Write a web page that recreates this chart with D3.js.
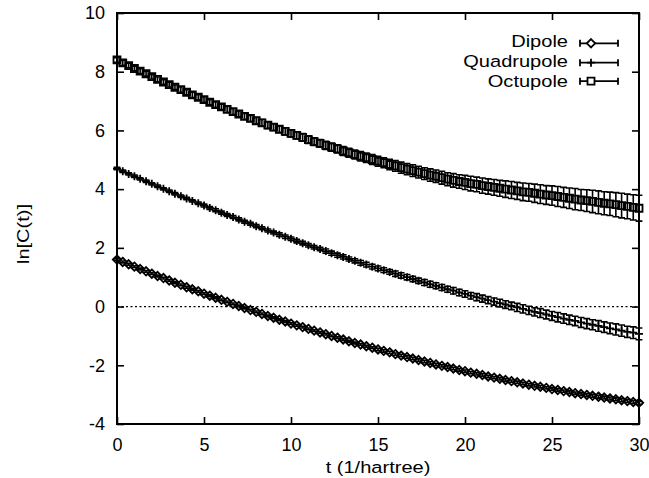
<!DOCTYPE html>
<html><head><meta charset="utf-8">
<script src="https://cdn.jsdelivr.net/npm/d3@7"></script>
<style>
body{margin:0;background:#fff}
text{font-family:"Liberation Sans",Arial,Helvetica,sans-serif;fill:#000}
</style>
</head><body>
<svg id="c" width="649" height="478"></svg>
<script>
const tVals = [0,0.33,0.67,1,1.33,1.67,2,2.33,2.67,3,3.33,3.67,4,4.33,4.67,5,5.33,5.67,6,6.33,6.67,7,7.33,7.67,8,8.33,8.67,9,9.33,9.67,10,10.33,10.67,11,11.33,11.67,12,12.33,12.67,13,13.33,13.67,14,14.33,14.67,15,15.33,15.67,16,16.33,16.67,17,17.33,17.67,18,18.33,18.67,19,19.33,19.67,20,20.33,20.67,21,21.33,21.67,22,22.33,22.67,23,23.33,23.67,24,24.33,24.67,25,25.33,25.67,26,26.33,26.67,27,27.33,27.67,28,28.33,28.67,29,29.33,29.67,30];

const dipole = [1.60,1.52,1.44,1.36,1.28,1.20,1.12,1.04,0.97,0.89,
0.81,0.74,0.66,0.59,0.52,0.44,0.37,0.30,0.23,0.16,
0.09,0.02,-0.05,-0.12,-0.18,-0.25,-0.32,-0.38,-0.45,-0.51,
-0.58,-0.64,-0.70,-0.76,-0.82,-0.88,-0.94,-1.00,-1.06,-1.12,
-1.18,-1.24,-1.29,-1.35,-1.40,-1.46,-1.51,-1.56,-1.62,-1.67,
-1.72,-1.77,-1.82,-1.87,-1.92,-1.97,-2.02,-2.06,-2.11,-2.16,
-2.20,-2.25,-2.29,-2.33,-2.38,-2.42,-2.46,-2.50,-2.54,-2.58,
-2.62,-2.66,-2.70,-2.73,-2.77,-2.81,-2.84,-2.88,-2.91,-2.95,
-2.98,-3.01,-3.04,-3.07,-3.10,-3.13,-3.16,-3.19,-3.22,-3.25,-3.28];
const dipoleErr = [0.03,0.03,0.03,0.03,0.03,0.03,0.03,0.03,0.03,0.03,
0.03,0.03,0.03,0.03,0.03,0.03,0.03,0.03,0.03,0.03,
0.03,0.03,0.03,0.03,0.03,0.03,0.03,0.03,0.03,0.03,
0.03,0.03,0.03,0.03,0.03,0.03,0.03,0.03,0.03,0.03,
0.03,0.03,0.03,0.03,0.03,0.04,0.04,0.04,0.04,0.04,
0.04,0.04,0.04,0.04,0.04,0.04,0.04,0.04,0.04,0.04,
0.04,0.04,0.04,0.04,0.04,0.04,0.04,0.04,0.04,0.04,
0.04,0.04,0.04,0.04,0.04,0.04,0.04,0.04,0.04,0.04,
0.04,0.05,0.05,0.05,0.05,0.05,0.05,0.05,0.05,0.05,0.05];

const quadrupole = [4.70,4.61,4.52,4.44,4.35,4.27,4.18,4.10,4.01,3.93,
3.84,3.76,3.68,3.60,3.52,3.44,3.36,3.28,3.20,3.12,
3.05,2.97,2.89,2.82,2.74,2.67,2.59,2.52,2.45,2.38,
2.31,2.23,2.16,2.09,2.02,1.96,1.89,1.82,1.75,1.69,
1.62,1.56,1.49,1.43,1.36,1.30,1.24,1.18,1.12,1.06,
1.00,0.94,0.88,0.82,0.76,0.71,0.65,0.59,0.54,0.48,
0.43,0.37,0.32,0.27,0.22,0.17,0.12,0.07,0.02,-0.03,
-0.08,-0.13,-0.18,-0.22,-0.27,-0.32,-0.36,-0.41,-0.45,-0.49,
-0.54,-0.58,-0.62,-0.66,-0.70,-0.74,-0.78,-0.82,-0.86,-0.89,-0.93];
const quadrupoleErr = [0.04,0.04,0.04,0.04,0.04,0.04,0.04,0.04,0.04,0.04,
0.04,0.04,0.04,0.04,0.04,0.05,0.05,0.05,0.05,0.05,
0.05,0.05,0.05,0.05,0.05,0.05,0.05,0.05,0.06,0.06,
0.06,0.06,0.06,0.06,0.06,0.06,0.07,0.07,0.07,0.07,
0.07,0.07,0.08,0.08,0.08,0.08,0.08,0.08,0.09,0.09,
0.09,0.09,0.09,0.10,0.10,0.10,0.10,0.10,0.11,0.11,
0.11,0.11,0.12,0.12,0.12,0.12,0.13,0.13,0.13,0.14,
0.14,0.14,0.14,0.15,0.15,0.15,0.16,0.16,0.16,0.16,
0.17,0.17,0.17,0.18,0.18,0.18,0.19,0.19,0.19,0.20,0.20];

const octupole = [8.40,8.30,8.21,8.11,8.02,7.93,7.83,7.74,7.65,7.56,
7.47,7.39,7.30,7.21,7.13,7.05,6.96,6.88,6.80,6.72,
6.64,6.56,6.48,6.41,6.33,6.26,6.18,6.11,6.04,5.97,
5.90,5.83,5.76,5.69,5.62,5.56,5.49,5.43,5.37,5.30,
5.24,5.18,5.12,5.07,5.01,4.95,4.90,4.84,4.79,4.73,
4.68,4.63,4.58,4.53,4.48,4.44,4.39,4.34,4.30,4.26,
4.23,4.19,4.16,4.12,4.09,4.06,4.03,4.00,3.97,3.94,
3.91,3.89,3.86,3.83,3.80,3.78,3.75,3.72,3.69,3.66,
3.63,3.61,3.58,3.55,3.52,3.50,3.47,3.44,3.41,3.38,3.35];
const octupoleErr = [0.08,0.08,0.08,0.08,0.08,0.08,0.08,0.08,0.08,0.08,
0.08,0.09,0.09,0.09,0.09,0.09,0.09,0.09,0.09,0.10,
0.10,0.10,0.10,0.10,0.11,0.11,0.11,0.11,0.11,0.12,
0.12,0.12,0.13,0.13,0.13,0.13,0.14,0.14,0.14,0.15,
0.15,0.15,0.16,0.16,0.17,0.17,0.17,0.18,0.18,0.19,
0.19,0.20,0.20,0.20,0.21,0.21,0.22,0.22,0.23,0.23,
0.24,0.25,0.25,0.26,0.26,0.27,0.27,0.28,0.29,0.29,
0.30,0.30,0.31,0.32,0.32,0.33,0.34,0.34,0.35,0.36,
0.36,0.37,0.38,0.39,0.39,0.40,0.41,0.42,0.42,0.43,0.44];

const seriesNames = ["Dipole","Quadrupole","Octupole"];
const seriesMarkers = ["diamond","plus","square"];
const xTicks = [0,5,10,15,20,25,30];
const yTicks = [-4,-2,0,2,4,6,8,10];
const xLabel = "t (1/hartree)";
const yLabel = "ln[C(t)]";

const series = [
  {name: seriesNames[0], marker: seriesMarkers[0], v: dipole, e: dipoleErr},
  {name: seriesNames[1], marker: seriesMarkers[1], v: quadrupole, e: quadrupoleErr},
  {name: seriesNames[2], marker: seriesMarkers[2], v: octupole, e: octupoleErr}
];

const L = 117, R = 639, T = 13, B = 424;
const x = d3.scaleLinear().domain([0,30]).range([L,R]);
const y = d3.scaleLinear().domain([-4,10]).range([B,T]);
const svg = d3.select("#c");
const TICK_FS = 18, LBL_FS = 17, SX = 1.18;
const fmt = d => String(d);

// zero line
svg.append("line").attr("x1",x(0)).attr("x2",x(30)).attr("y1",y(0)).attr("y2",y(0))
  .attr("stroke","#000").attr("stroke-width",1.3).attr("stroke-dasharray","2,2.5");

function markerPath(type, cx, cy){
  if(type==="diamond"){const s=4.2;return `M${cx},${cy-s}L${cx+s},${cy}L${cx},${cy+s}L${cx-s},${cy}Z`;}
  if(type==="square"){const s=3.5;return `M${cx-s},${cy-s}H${cx+s}V${cy+s}H${cx-s}Z`;}
  const s=4;return `M${cx-s},${cy}H${cx+s}M${cx},${cy-s}V${cy+s}`;
}
const cap = 3.4;
series.forEach(s=>{
  const g = svg.append("g");
  const pts = tVals.map((t,i)=>({t, v:s.v[i], e:s.e[i]}));
  let d = "";
  pts.forEach(p=>{
    const cx = x(p.t), y1 = y(p.v+p.e), y2 = y(p.v-p.e);
    d += `M${cx},${y1}V${y2}M${cx-cap},${y1}H${cx+cap}M${cx-cap},${y2}H${cx+cap}`;
  });
  g.append("path").attr("d",d).attr("stroke","#000").attr("stroke-width",1.6).attr("fill","none");
  let m = "";
  pts.forEach(p=>{ m += markerPath(s.marker, x(p.t), y(p.v)); });
  g.append("path").attr("d",m).attr("stroke","#000").attr("stroke-width",1.8).attr("fill","none");
});

// axes
const axB = svg.append("g").attr("transform",`translate(0,${B})`)
  .call(d3.axisBottom(x).tickValues(xTicks).tickSizeInner(-7).tickSizeOuter(0).tickPadding(14).tickFormat(fmt));
const axT = svg.append("g").attr("transform",`translate(0,${T})`)
  .call(d3.axisTop(x).tickValues(xTicks).tickSizeInner(-7).tickSizeOuter(0).tickFormat(""));
const axLft = svg.append("g").attr("transform",`translate(${L},0)`)
  .call(d3.axisLeft(y).tickValues(yTicks).tickSizeInner(-7).tickSizeOuter(0).tickPadding(12).tickFormat(fmt));
const axRt = svg.append("g").attr("transform",`translate(${R},0)`)
  .call(d3.axisRight(y).tickValues(yTicks).tickSizeInner(-7).tickSizeOuter(0).tickFormat(""));
[axB,axT,axLft,axRt].forEach(a=>{
  a.select(".domain").remove();
  a.selectAll("line").attr("stroke","#000").attr("stroke-width",1.6);
  a.selectAll("text").attr("font-family",null).style("font-size",TICK_FS+"px").attr("fill","#000");
});
svg.append("rect").attr("x",L).attr("y",T).attr("width",R-L).attr("height",B-T)
  .attr("fill","none").attr("stroke","#000").attr("stroke-width",2);

// axis titles
svg.append("text").attr("transform",`translate(${(L+R)/2},473) scale(${SX},1)`).attr("text-anchor","middle")
  .style("font-size",LBL_FS+"px").text(xLabel);
svg.append("text").attr("transform",`translate(29,234) rotate(-90) scale(${SX},1)`).attr("text-anchor","middle")
  .style("font-size",LBL_FS+"px").text(yLabel);

// legend
const legText = [47.3,67.4,86.6];
const legSym = [43.3,62.7,81.2];
series.forEach((s,i)=>{
  const yy = legSym[i];
  svg.append("text").attr("transform",`translate(568,${legText[i]}) scale(${SX},1)`).attr("text-anchor","end")
    .style("font-size",LBL_FS+"px").text(s.name);
  const x1=580, x2=618, h=3.5;
  svg.append("path").attr("d",`M${x1},${yy}H${x2}M${x1},${yy-h}V${yy+h}M${x2},${yy-h}V${yy+h}`)
    .attr("stroke","#000").attr("stroke-width",1.8).attr("fill","none");
  svg.append("path").attr("d",markerPath(s.marker,591,yy)).attr("stroke","#000").attr("stroke-width",1.8).attr("fill","#fff");
});
</script>
</body></html>
